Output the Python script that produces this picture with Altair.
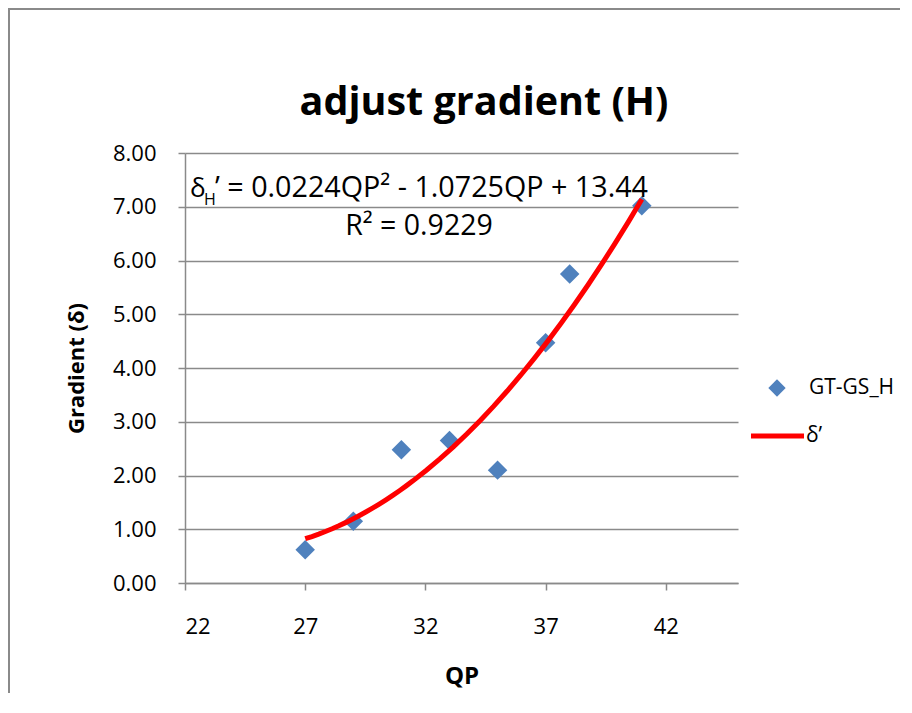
import altair as alt
import pandas as pd

# ---- data ----
qp = [27, 29, 31, 33, 35, 37, 38, 41]
gradient = [0.62, 1.15, 2.48, 2.65, 2.10, 4.47, 5.75, 7.02]
x_ticks = [22, 27, 32, 37, 42]
y_ticks = [0, 1, 2, 3, 4, 5, 6, 7, 8]
x_domain = [22, 45]
y_domain = [0, 8]
fit_extent = [27, 41]

chart_title = "adjust gradient (H)"
x_title = "QP"
y_title = "Gradient (δ)"
eq_delta = "δ"
eq_sub = "H"
eq_rest = "’ = 0.0224QP² - 1.0725QP + 13.44"
r2_text = "R² = 0.9229"
series_points = "GT-GS_H"
series_line = "δ’"

FONT = "Open Sans"
GRID = "#8a8a8a"
BLUE = "#4F81BD"
W, H = 553, 430

df = pd.DataFrame({"QP": qp, "G": gradient})
one = pd.DataFrame({"k": [0]})

xscale = alt.Scale(domain=x_domain, nice=False, zero=False)
yscale = alt.Scale(domain=y_domain, nice=False, zero=False)

xaxis = alt.Axis(values=x_ticks, grid=False, domainColor=GRID, domainWidth=1.5,
                 tickColor=GRID, tickWidth=1.5, tickSize=7, labelPadding=26,
                 labelFontSize=22, labelFont=FONT, labelColor="black",
                 titleFont=FONT, titleFontSize=24, titleFontWeight="bold",
                 titleColor="black", titlePadding=27)
yaxis = alt.Axis(values=y_ticks, format=".2f", grid=True, gridColor=GRID,
                 gridWidth=1.5, domainColor=GRID, domainWidth=1.5,
                 tickColor=GRID, tickWidth=1.5, tickSize=7, labelPadding=22,
                 labelFontSize=22, labelFont=FONT, labelColor="black",
                 titleFont=FONT, titleFontSize=22, titleFontWeight="bold",
                 titleColor="black", titlePadding=24)

base = alt.Chart(df)

points = base.mark_point(shape="diamond", filled=True, size=380,
                         color=BLUE, opacity=1).encode(
    x=alt.X("QP:Q", scale=xscale, axis=xaxis, title=x_title),
    y=alt.Y("G:Q", scale=yscale, axis=yaxis, title=y_title),
)

trend = base.transform_regression(
    "QP", "G", method="poly", order=2, extent=fit_extent
).mark_line(color="red", strokeWidth=5).encode(
    x=alt.X("QP:Q", scale=xscale), y=alt.Y("G:Q", scale=yscale)
)

def txt(s, x, y, size, weight="normal", align="left", baseline="alphabetic"):
    return alt.Chart(one).mark_text(
        text=s, font=FONT, fontSize=size, fontWeight=weight, align=align,
        baseline=baseline, color="black"
    ).encode(x=alt.value(x), y=alt.value(y))

title_t = txt(chart_title, 299, -38, 39.5, weight="bold", align="center")
eq1 = txt(eq_delta, 5, 44, 26)
eq2 = txt(eq_sub, 19, 52, 16)
eq3 = txt(eq_rest, 30, 44, 28.7)
r2 = txt(r2_text, 234, 82, 28.5, align="center")

leg_pt = alt.Chart(one).mark_point(shape="diamond", filled=True, size=300,
                                   color=BLUE, opacity=1).encode(
    x=alt.value(592), y=alt.value(235))
leg_pt_t = txt(series_points, 624, 235, 21, baseline="middle")
leg_ln = alt.Chart(one).mark_rule(color="red", strokeWidth=5).encode(
    x=alt.value(566), x2=alt.value(619), y=alt.value(283))
leg_ln_t = txt(series_line, 621, 283, 21, baseline="middle")

border_left = alt.Chart(one).mark_rule(color="#8a8a8a", strokeWidth=2).encode(
    x=alt.value(-176), y=alt.value(-145), y2=alt.value(600))
border_top = alt.Chart(one).mark_rule(color="#8a8a8a", strokeWidth=2).encode(
    x=alt.value(-177), x2=alt.value(760), y=alt.value(-144))

chart = alt.layer(
    border_left, border_top, points, trend, title_t, eq1, eq2, eq3, r2,
    leg_pt, leg_pt_t, leg_ln, leg_ln_t
).properties(
    width=W, height=H,
    autosize=alt.AutoSizeParams(type="none"),
    padding={"left": 177, "top": 145, "right": 162, "bottom": 110},
    background="white",
).configure_view(stroke=None)

chart.save("out.html", embed_options={"renderer": "svg", "actions": False})
